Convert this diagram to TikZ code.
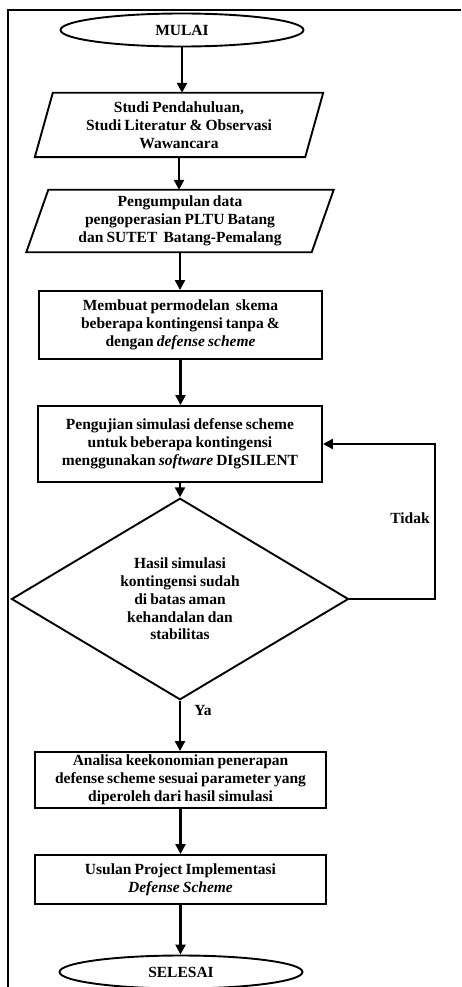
\documentclass[tikz,border=0pt]{standalone}
\usepackage{fontspec}
\setmainfont{Liberation Serif}
\usetikzlibrary{shapes.geometric,arrows.meta}
\newcommand{\flownodefont}{\fontsize{15.5}{17.8}\selectfont\bfseries\spaceskip=0.2em plus 0.05em\relax}
\begin{document}
\begin{tikzpicture}[x=1pt,y=-1pt,
  every node/.style={font=\flownodefont, align=center, inner sep=0pt},
  shapeline/.style={line width=1.9pt},
  boxnode/.style={draw, shapeline, rectangle},
  paranode/.style={rectangle},
  termnode/.style={draw, shapeline, ellipse, minimum width=243pt, minimum height=33pt},
  decnode/.style={draw, shapeline, diamond, minimum width=337pt, minimum height=151pt},
  flow/.style={line width=2.3pt, -{Triangle[length=10pt,width=10pt]}},
  frameline/.style={line width=1.4pt}
]
\useasboundingbox (0,0) rectangle (461,987);
\draw[frameline] (461,10) -- (8,10) -- (8,990);

\node[termnode] (start) at (182,30) {MULAI};

\node[paranode, minimum width=270pt, minimum height=64pt] (p1) at (179,125)
  {Studi Pendahuluan,\\ Studi Literatur \& Observasi\\ Wawancara};
\draw[shapeline] ([xshift=9pt]p1.north west) -- ([xshift=9pt]p1.north east)
  -- ([xshift=-9pt]p1.south east) -- ([xshift=-9pt]p1.south west) -- cycle;

\node[paranode, minimum width=285pt, minimum height=62pt] (p2) at (180,221)
  {Pengumpulan data\\ pengoperasian PLTU Batang\\ dan SUTET~ Batang-Pemalang};
\draw[shapeline] ([xshift=11pt]p2.north west) -- ([xshift=11pt]p2.north east)
  -- ([xshift=-11pt]p2.south east) -- ([xshift=-11pt]p2.south west) -- cycle;

\node[boxnode, minimum width=283pt, minimum height=68pt] (r3) at (180.5,325)
  {Membuat permodelan~ skema\\ beberapa kontingensi tanpa \&\\ dengan \textit{defense scheme}};

\node[boxnode, minimum width=284pt, minimum height=76pt] (r4) at (180,444)
  {Pengujian simulasi defense scheme\\ untuk beberapa kontingensi\\ menggunakan \textit{software} DIgSILENT};

\node[decnode] (d) at (180,599)
  {Hasil simulasi\\ kontingensi sudah\\ di batas aman\\ kehandalan dan\\ stabilitas};

\node[boxnode, minimum width=291pt, minimum height=56pt] (r5) at (180.5,780)
  {Analisa keekonomian penerapan\\ defense scheme sesuai parameter yang\\ diperoleh dari hasil simulasi};

\node[boxnode, minimum width=291pt, minimum height=49pt] (r6) at (180.5,879.5)
  {Usulan Project Implementasi\\ \textit{Defense Scheme}};

\node[termnode] (stop) at (181,972) {SELESAI};

\coordinate (fb) at (435,599);
\node (tidak) at (410,518) {Tidak};
\node (ya) at (203,710) {Ya};

\draw[flow] (start) -- (start |- p1.north);
\draw[flow] (p1.south) -- (p1.south |- p2.north);
\draw[flow] (p2.south) -- (p2.south |- r3.north);
\draw[flow] (r3.south) -- (r3.south |- r4.north);
\draw[flow] (r4.south) -- (d.north);
\draw[flow] (d.south) -- (d.south |- r5.north);
\draw[flow] (r5.south) -- (r5.south |- r6.north);
\draw[flow] (r6.south) -- (r6.south |- stop.north);
\draw[flow] (d.east) -- (fb) |- (r4.east);
\end{tikzpicture}
\end{document}
